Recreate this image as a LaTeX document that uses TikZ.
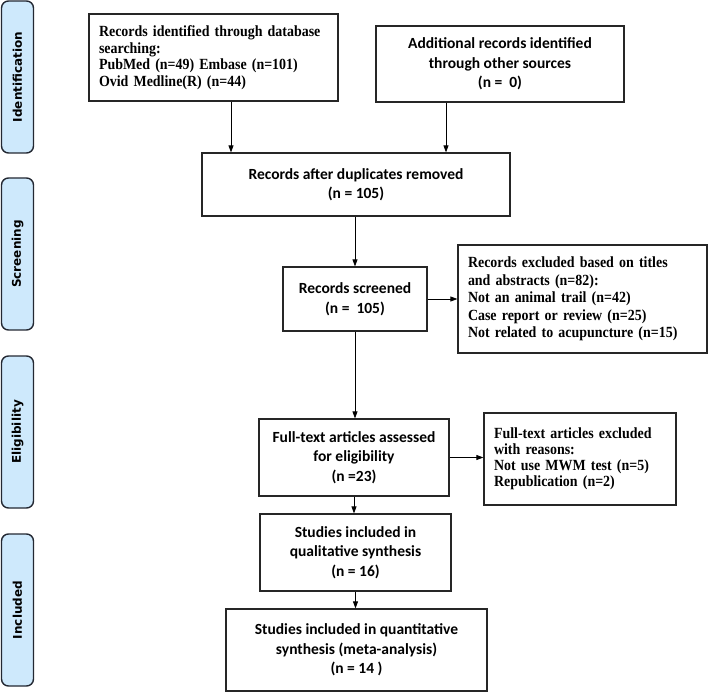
\documentclass[tikz,border=0pt]{standalone}
\usepackage{fontspec}
\newfontfamily\calfont{Carlito}
\newfontfamily\tmsfont[FakeStretch=0.9]{Liberation Serif}
\newfontfamily\barfont{DejaVu Sans}
\usetikzlibrary{arrows.meta}
\definecolor{barblue}{RGB}{206,233,252}
\definecolor{barline}{RGB}{35,40,50}
\tikzset{
    stage/.style={draw=barline, fill=barblue, line width=1.4pt, rounded corners=7pt, rotate=90,
        minimum width=152pt, minimum height=32pt, inner sep=0pt,
        font=\barfont\bfseries\fontsize{12}{14}\selectfont},
    cbox/.style={draw=black!85, line width=1.2pt, align=center, inner sep=0pt,
        font=\calfont\bfseries\fontsize{15.5}{19.5}\selectfont},
    tbox/.style={draw=black!85, line width=1.2pt, align=left, inner xsep=10pt, inner ysep=0pt,
        font=\tmsfont\bfseries\fontsize{15.5}{#1}\selectfont},
    arr/.style={-{Triangle[length=7pt,width=5pt]}, line width=0.8pt}
}
\begin{document}
\begin{tikzpicture}[x=1pt, y=-1pt]
    \useasboundingbox (0,0) rectangle (709,692);
    % stages on the left
    \foreach \yc/\stagename [count=\i] in {77/Identification, 254/Screening, 432/Eligibility, 610/Included}
        \node[stage] (stage\i) at (17.5,\yc) {\stagename};
    % boxes
    \node[tbox=16.5, text width=229pt, minimum height=87pt] (db) at (213.5,57.5) {Records identified through database\\searching:\\PubMed (n=49) Embase (n=101)\\Ovid Medline(R) (n=44)};
    \node[cbox, minimum width=248pt, minimum height=76pt] (other) at (500,64) {Additional records identified\\through other sources\\(n = \ 0)};
    \node[cbox, minimum width=308pt, minimum height=63pt] (dup) at (356,184.5) {Records after duplicates removed\\(n = 105)};
    \node[cbox, minimum width=144pt, minimum height=64pt] (screen) at (355,299) {Records screened\\(n = \ 105)};
    \node[tbox=17.5, text width=229pt, minimum height=108pt] (excl1) at (582.5,299) {Records excluded based on titles\\and abstracts (n=82):\\Not an animal trail (n=42)\\Case report or review (n=25)\\Not related to acupuncture (n=15)};
    \node[cbox, minimum width=190pt, minimum height=77pt] (full) at (354,457.5) {Full-text articles assessed\\for eligibility\\(n =23)};
    \node[tbox=16, text width=172pt, minimum height=92pt] (excl2) at (580,459) {Full-text articles excluded\\with reasons:\\Not use MWM test (n=5)\\Republication (n=2)};
    \node[cbox, minimum width=191pt, minimum height=77pt] (qual) at (355.5,552.5) {Studies included in\\qualitative synthesis\\(n = 16)};
    \node[cbox, minimum width=261pt, minimum height=82pt] (quant) at (356.5,650) {Studies included in quantitative\\synthesis (meta-analysis)\\(n = 14 )};
    % arrows
    \draw[arr] ([xshift=17.5pt]db.south) -- ([xshift=17.5pt]db.south |- dup.north);
    \draw[arr] ([xshift=-54pt]other.south) -- ([xshift=-54pt]other.south |- dup.north);
    \draw[arr] (screen.north |- dup.south) -- (screen.north);
    \draw[arr] (screen.east) -- (excl1.west);
    \draw[arr] (screen.south) -- (screen.south |- full.north);
    \draw[arr] (full.east) -- (full.east -| excl2.west);
    \draw[arr] (full.south) -- (full.south |- qual.north);
    \draw[arr] (qual.south) -- (qual.south |- quant.north);
\end{tikzpicture}
\end{document}
